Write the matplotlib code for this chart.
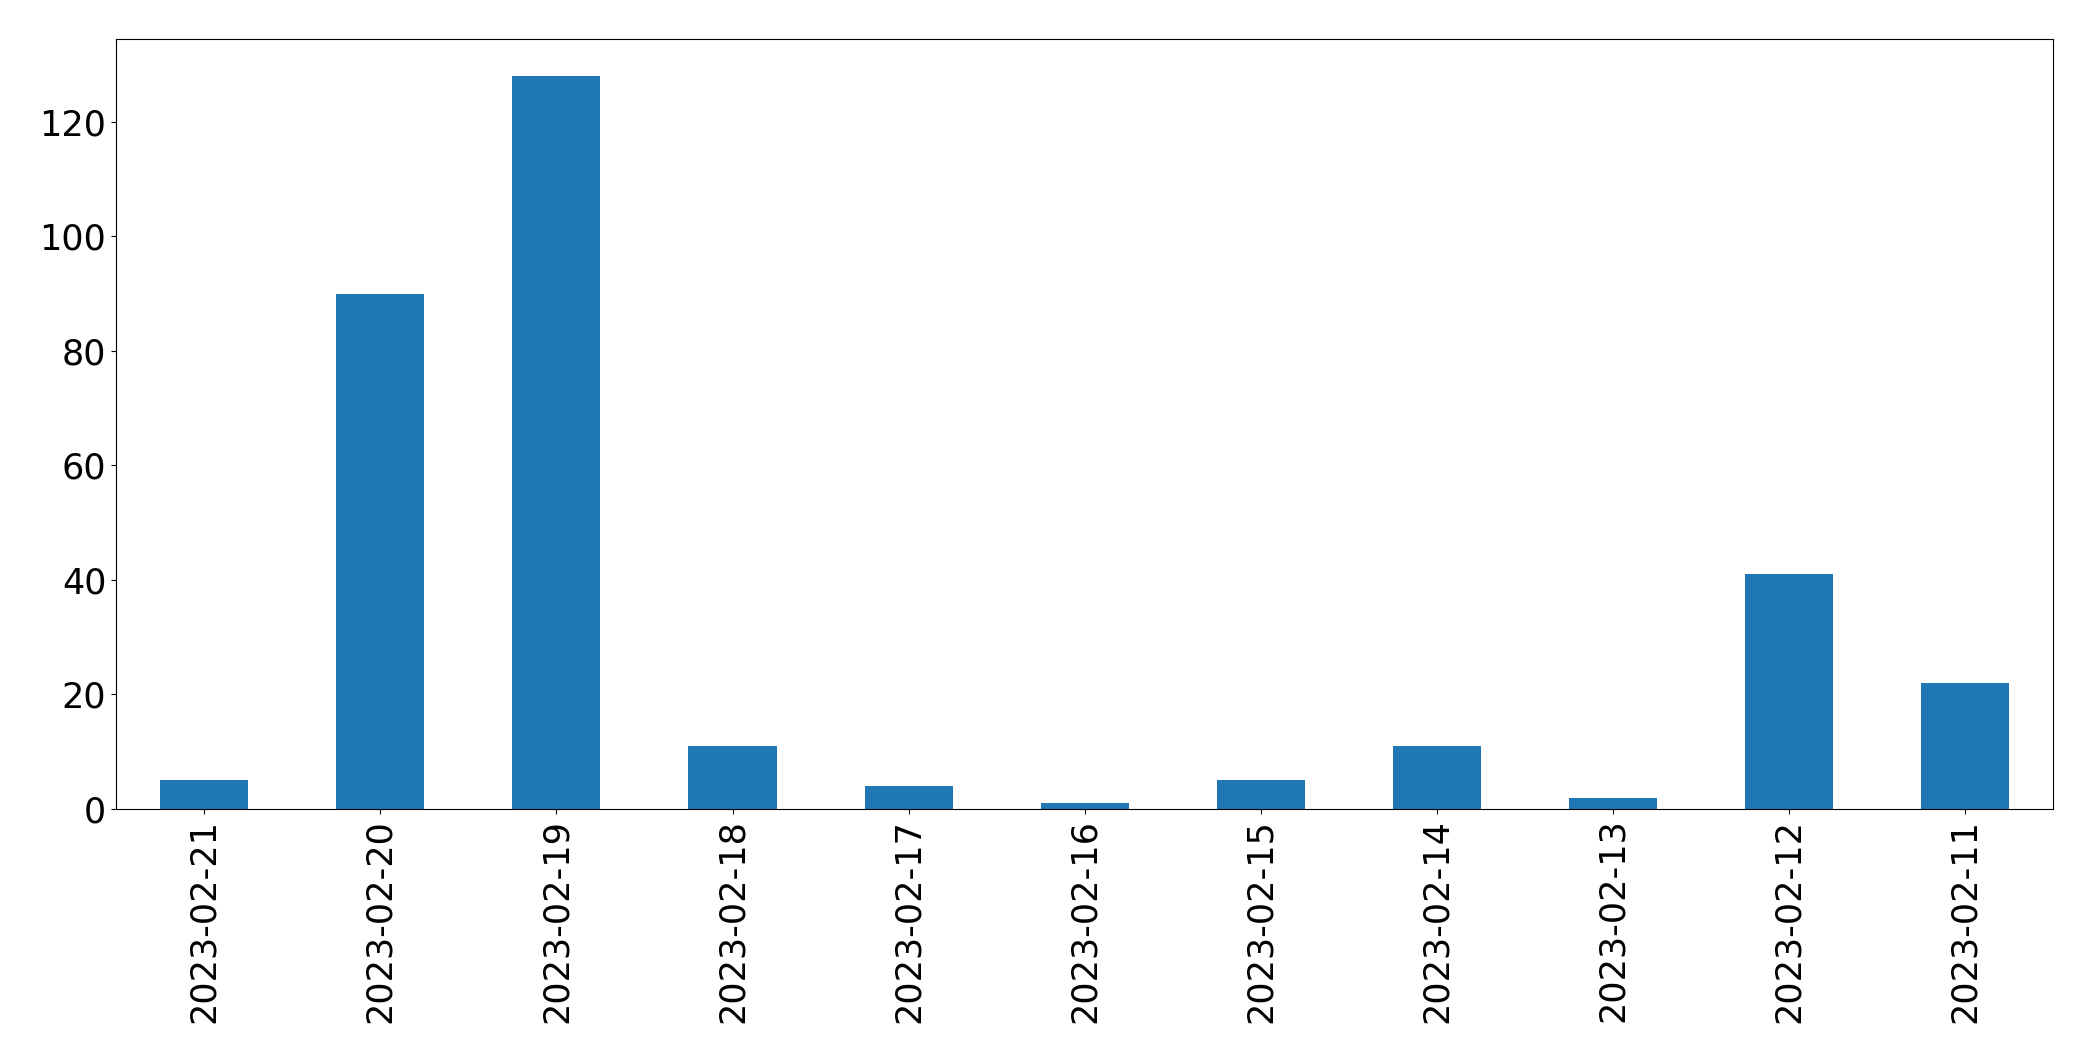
import pandas as pd
import matplotlib.pyplot as plt

dates = ["2023-02-21", "2023-02-20", "2023-02-19", "2023-02-18", "2023-02-17", "2023-02-16",
         "2023-02-15", "2023-02-14", "2023-02-13", "2023-02-12", "2023-02-11"]
counts = [5, 90, 128, 11, 4, 1, 5, 11, 2, 41, 22]

s = pd.Series(counts, index=dates)

fig = plt.figure(figsize=(20.93, 10.61), dpi=100)
ax = s.plot(kind="bar", color="#1f77b4", fontsize=25.2)
plt.subplots_adjust(left=0.0555, right=0.981, top=0.963, bottom=0.2375)

plt.savefig("out.png", dpi=100)
